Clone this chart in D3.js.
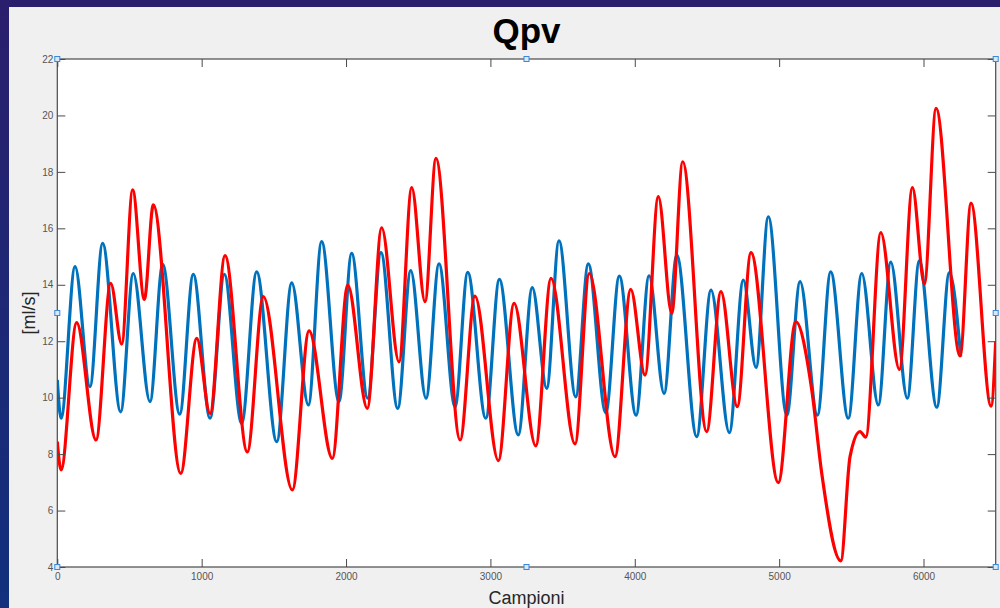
<!DOCTYPE html>
<html>
<head>
<meta charset="utf-8">
<script src="https://cdn.jsdelivr.net/npm/d3@7"></script>
<style>
    html, body { margin: 0; padding: 0; }
    body { width: 1000px; height: 608px; overflow: hidden; font-family: "Liberation Sans", Arial, sans-serif; }
</style>
</head>
<body>
<svg id="chart" width="1000" height="608"></svg>
<script>
// samples (x) and values (ml/s), peaks and troughs
const blueX = [0, 26, 123, 226, 314, 439, 526, 642, 730, 848, 942, 1058, 1157, 1277, 1381, 1520, 1624, 1739, 1831, 1951,
    2039, 2150, 2242, 2358, 2448, 2554, 2644, 2755, 2843, 2968, 3062, 3193, 3290, 3390, 3475, 3591, 3678, 3799, 3893, 4009,
    4099, 4203, 4291, 4429, 4528, 4655, 4752, 4840, 4925, 5053, 5145, 5265, 5357, 5479, 5572, 5687, 5773, 5888, 5971, 6092,
    6179, 6258];
const blueY = [10.63, 9.27, 14.64, 10.39, 15.47, 9.5, 14.4, 9.86, 14.72, 9.42, 14.37, 9.27, 14.37, 9.09, 14.46, 8.44, 14.07, 9.74, 15.53, 9.86,
    15.11, 9.98, 15.14, 9.62, 14.5, 9.98, 14.74, 9.68, 14.44, 9.27, 14.19, 8.68, 13.9, 10.33, 15.56, 10.03, 14.74, 9.47, 14.31, 9.38,
    14.32, 10.15, 15.05, 8.62, 13.81, 8.76, 14.17, 11.07, 16.41, 9.38, 14.11, 9.38, 14.46, 9.27, 14.4, 9.74, 14.8, 9.98, 14.85, 9.66,
    14.43, 11.45];

const redX = [0, 26, 134, 268, 370, 446, 522, 603, 665, 855, 966, 1058, 1162, 1316, 1427, 1628, 1744, 1905, 2012, 2147,
    2247, 2367, 2455, 2547, 2623, 2790, 2893, 3055, 3164, 3314, 3420, 3586, 3685, 3863, 3972, 4071, 4163, 4256, 4332, 4498,
    4597, 4710, 4805, 4994, 5115, 5226, 5295, 5427, 5491, 5560, 5600, 5704, 5833, 5923, 6006, 6087, 6253, 6329, 6468, 6500];
const redY = [8.44, 7.44, 12.66, 8.5, 14.05, 11.9, 17.36, 13.48, 16.83, 7.32, 12.1, 9.44, 15.03, 8.08, 13.58, 6.73, 12.37, 7.85, 13.99, 9.62,
    16.02, 11.27, 17.44, 13.4, 18.48, 8.5, 13.6, 7.77, 13.34, 8.29, 14.23, 8.36, 14.4, 7.91, 13.84, 10.8, 17.12, 12.99, 18.36, 8.8,
    13.76, 9.68, 15.14, 6.99, 12.69, 10.27, 7.32, 4.22, 7.91, 8.8, 8.6, 15.85, 11.0, 17.44, 14.03, 20.25, 11.48, 16.89, 9.7, 12.0];

const xTicks = [0, 1000, 2000, 3000, 4000, 5000, 6000];
const yTicks = [4, 6, 8, 10, 12, 14, 16, 18, 20, 22];

const plot = {left: 57.3, right: 995.7, top: 59, bottom: 567};

let svg = d3.select("#chart");

// dark desktop behind the figure window
let defs = svg.append("defs");
let grad = defs.append("linearGradient").attr("id", "desk")
    .attr("x1", 0).attr("y1", 0).attr("x2", 0).attr("y2", 1);
grad.append("stop").attr("offset", "0%").attr("stop-color", "#2a1f6c");
grad.append("stop").attr("offset", "100%").attr("stop-color", "#11307d");
svg.append("rect").attr("width", 1000).attr("height", 608).attr("fill", "url(#desk)");

svg.append("rect").attr("x", 9).attr("y", 7).attr("width", 991).attr("height", 601).attr("fill", "#f0f0f0");

defs.append("clipPath").attr("id", "clip").append("rect")
    .attr("x", plot.left).attr("y", plot.top)
    .attr("width", plot.right - plot.left).attr("height", plot.bottom - plot.top);

let x = d3.scaleLinear().domain([0, 6500]).range([plot.left, plot.right]);
let y = d3.scaleLinear().domain([4, 22]).range([plot.bottom, plot.top]);

svg.append("rect")
    .attr("x", plot.left).attr("y", plot.top)
    .attr("width", plot.right - plot.left).attr("height", plot.bottom - plot.top)
    .attr("fill", "#fff");

let line = d3.line()
    .x(d => x(d[0]))
    .y(d => y(d[1]))
    .curve(d3.curveMonotoneX);

let series = [
    {color: "#0072bd", pts: blueX.map((v, i) => [v, blueY[i]])},
    {color: "#ff0000", pts: redX.map((v, i) => [v, redY[i]])}
];

svg.append("g").attr("clip-path", "url(#clip)")
    .selectAll("path")
    .data(series)
    .enter().append("path")
    .attr("d", d => line(d.pts))
    .attr("fill", "none")
    .attr("stroke", d => d.color)
    .attr("stroke-width", 3.2)
    .attr("stroke-linejoin", "round");

// axes, MATLAB style: ticks pointing in, box on
function styleAxis(g, showLabels) {
    g.select(".domain").remove();
    g.selectAll(".tick line").attr("stroke", "#4a4a4a").attr("stroke-width", 1);
    g.selectAll(".tick text")
        .attr("fill", "#555")
        .style("font-size", "10px")
        .style("font-family", "'Liberation Sans', Arial, sans-serif");
    if (!showLabels) g.selectAll(".tick text").remove();
}

svg.append("g").attr("transform", `translate(0,${plot.bottom})`)
    .call(d3.axisBottom(x).tickValues(xTicks).tickSize(-8).tickPadding(6).tickFormat(d3.format("d")))
    .call(g => styleAxis(g, true));
svg.append("g").attr("transform", `translate(0,${plot.top})`)
    .call(d3.axisTop(x).tickValues(xTicks).tickSize(-8))
    .call(g => styleAxis(g, false));
svg.append("g").attr("transform", `translate(${plot.left},0)`)
    .call(d3.axisLeft(y).tickValues(yTicks).tickSize(-8).tickPadding(4).tickFormat(d3.format("d")))
    .call(g => styleAxis(g, true));
svg.append("g").attr("transform", `translate(${plot.right},0)`)
    .call(d3.axisRight(y).tickValues(yTicks).tickSize(-8))
    .call(g => styleAxis(g, false));

svg.append("rect")
    .attr("x", plot.left).attr("y", plot.top)
    .attr("width", plot.right - plot.left).attr("height", plot.bottom - plot.top)
    .attr("fill", "none").attr("stroke", "#4a4a4a").attr("stroke-width", 1.2);

// selection handles on the axes box
let midX = (plot.left + plot.right) / 2, midY = (plot.top + plot.bottom) / 2;
let handles = [[plot.left, plot.top], [midX, plot.top], [plot.right, plot.top],
    [plot.left, midY], [plot.right, midY],
    [plot.left, plot.bottom], [midX, plot.bottom], [plot.right, plot.bottom]];
svg.selectAll(".handle").data(handles).enter().append("rect")
    .attr("class", "handle")
    .attr("x", d => d[0] - 2.5).attr("y", d => d[1] - 2.5)
    .attr("width", 5).attr("height", 5)
    .attr("fill", "#d8e8f8").attr("stroke", "#3a88d6").attr("stroke-width", 1);

svg.append("text")
    .attr("x", midX).attr("y", 43)
    .attr("text-anchor", "middle")
    .style("font-size", "35px").style("font-weight", "bold")
    .attr("fill", "#000")
    .text("Qpv");

svg.append("text")
    .attr("x", midX).attr("y", 604)
    .attr("text-anchor", "middle")
    .style("font-size", "18px")
    .attr("fill", "#262626")
    .text("Campioni");

svg.append("text")
    .attr("transform", `translate(35,${midY}) rotate(-90)`)
    .attr("text-anchor", "middle")
    .style("font-size", "18px")
    .attr("fill", "#262626")
    .text("[ml/s]");
</script>
</body>
</html>
